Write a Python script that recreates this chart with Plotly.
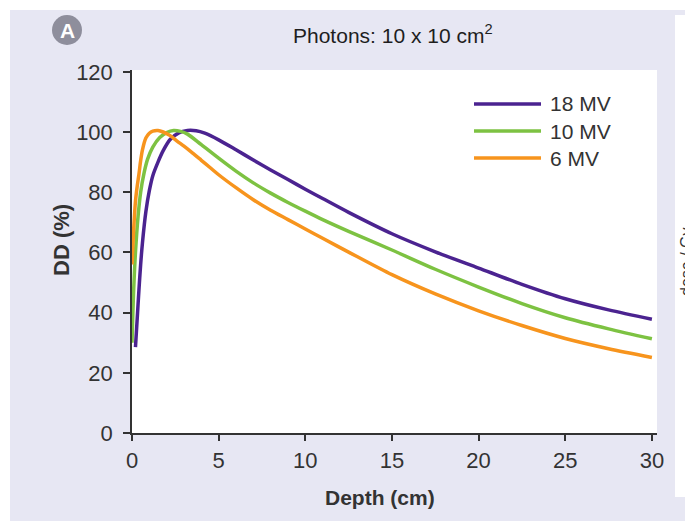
import plotly.graph_objects as go

# ---------------- data ----------------
depth_6mv = [0, 0.05, 0.1, 0.2, 0.3, 0.4, 0.5, 0.6, 0.8, 1.0, 1.2, 1.5, 1.8, 2.2, 2.6, 3.0, 3.5, 4.0, 4.5, 5.0,
             6.0, 7.0, 8.0, 9.0, 10, 11, 12.5, 15, 17.5, 20, 22.5, 25, 27.5, 30]
dd_6mv = [56, 62, 68, 77, 82, 86, 90.5, 94, 98, 99.6, 100.3, 100.5, 100, 98.8, 97, 95.3, 93, 90.6, 88.2, 85.8,
          81.5, 77.5, 74.0, 70.9, 67.8, 64.7, 60.1, 52.6, 46.2, 40.6, 35.7, 31.4, 28.0, 25.1]

depth_10mv = [0, 0.05, 0.1, 0.2, 0.35, 0.5, 0.7, 0.9, 1.2, 1.6, 2.0, 2.4, 2.8, 3.2, 4.0, 5.0, 6.0, 7.0, 8.0, 9.0,
              10, 11, 12.5, 15, 17.5, 20, 22.5, 25, 27.5, 30]
dd_10mv = [30, 40, 48, 60, 72, 80, 86.5, 91, 95, 98.2, 99.8, 100.5, 100.2, 99.3, 95.8, 91.3, 87.0, 83.1, 79.7, 76.6,
           73.7, 70.9, 67.0, 60.8, 54.4, 48.5, 43.0, 38.3, 34.6, 31.3]

depth_18mv = [0.2, 0.3, 0.4, 0.5, 0.6, 0.8, 1.0, 1.2, 1.5, 1.8, 2.2, 2.7, 3.2, 3.7, 4.2, 5.0, 6.0, 7.0, 8.0, 9.0,
              10, 11, 12.5, 15, 17.5, 20, 22.5, 25, 27.5, 30]
dd_18mv = [28.5, 38, 47.5, 56, 63, 73.5, 80.5, 85.5, 90, 93.8, 97.5, 99.7, 100.5, 100.4, 99.6, 97.4, 94.1, 90.7, 87.4, 84.2,
           81.0, 77.9, 73.3, 66.2, 60.2, 54.8, 49.4, 44.6, 40.9, 37.8]

series_names = ["18 MV", "10 MV", "6 MV"]
series_colors = ["#4b2390", "#7dc242", "#f7941d"]
series_depths = [depth_18mv, depth_10mv, depth_6mv]
series_values = [dd_18mv, dd_10mv, dd_6mv]

x_ticks = [0, 5, 10, 15, 20, 25, 30]
y_ticks = [0, 20, 40, 60, 80, 100, 120]

title_text = "Photons: 10 x 10 cm<sup>2</sup>"
x_title = "Depth (cm)"
y_title = "DD (%)"
panel_letter = "A"
side_text = "dose / Gy"

# ---------------- layout geometry ----------------
# the page body adds an 8 px offset; positions below are screen pixels
OFF = 8
W, H = 693, 521
SL, SR, ST, SB = 132, 657, 70, 433  # plot area in screen pixels
PL, PR, PT, PB = SL - OFF, SR - OFF, ST - OFF, SB - OFF
pw, ph = PR - PL, PB - PT


def px(x):
    return (x - OFF - PL) / pw


def py(y):
    return (PB - (y - OFF)) / ph


FONT = "Liberation Sans, Arial, sans-serif"
TXT = "#333333"
LAV = "#e7e7f3"

fig = go.Figure()
for name, color, xs, ys in zip(series_names, series_colors, series_depths, series_values):
    fig.add_trace(go.Scatter(
        x=xs, y=ys, mode="lines", name=name,
        line=dict(color=color, width=3.5, shape="spline", smoothing=0.8),
        showlegend=False,
    ))

shapes = [
    dict(type="rect", xref="paper", yref="paper", x0=px(10), x1=px(720), y0=py(540), y1=py(10),
         fillcolor=LAV, line=dict(width=0), layer="below"),
    dict(type="rect", xref="paper", yref="paper", x0=0, x1=1, y0=0, y1=1,
         fillcolor="white", line=dict(width=0), layer="below"),
    dict(type="rect", xref="paper", yref="paper", x0=px(675), x1=px(720), y0=py(497), y1=py(15),
         fillcolor="white", line=dict(width=0), layer="below"),
    dict(type="circle", xref="paper", yref="paper", x0=px(52), x1=px(82), y0=py(45), y1=py(15),
         fillcolor="#8e8e9c", line=dict(width=0), layer="above"),
]

annotations = [
    dict(text=title_text, xref="paper", yref="paper", x=px(393), y=py(34), showarrow=False,
         font=dict(family=FONT, size=21, color="#1e1e1e"), xanchor="center", yanchor="middle"),
    dict(text="<b>" + panel_letter + "</b>", xref="paper", yref="paper", x=px(67), y=py(30.5), showarrow=False,
         font=dict(family=FONT, size=21, color="white"), xanchor="center", yanchor="middle"),
    dict(text="<b>" + x_title + "</b>", xref="paper", yref="paper", x=px(380), y=py(497), showarrow=False,
         font=dict(family=FONT, size=21, color=TXT), xanchor="center", yanchor="middle"),
    dict(text="<b>" + y_title + "</b>", xref="paper", yref="paper", x=px(62), y=py(240), showarrow=False,
         textangle=-90, font=dict(family=FONT, size=22, color=TXT), xanchor="center", yanchor="middle"),
    dict(text=side_text, xref="paper", yref="paper", x=px(686), y=py(262), showarrow=False,
         textangle=-90, font=dict(family=FONT, size=16, color="#333333"), xanchor="center", yanchor="middle"),
]

leg_y = [104, 131, 158]
for name, color, ly in zip(series_names, series_colors, leg_y):
    shapes.append(dict(type="line", xref="paper", yref="paper", x0=px(474), x1=px(541), y0=py(ly), y1=py(ly),
                       line=dict(color=color, width=3.5), layer="above"))
    annotations.append(dict(text=name, xref="paper", yref="paper", x=px(548), y=py(ly), showarrow=False,
                            font=dict(family=FONT, size=21, color=TXT), xanchor="left", yanchor="middle"))

fig.update_layout(
    width=W, height=H,
    margin=dict(l=PL, r=W - PR, t=PT, b=H - PB, pad=0, autoexpand=False),
    paper_bgcolor="white", plot_bgcolor="white",
    shapes=shapes, annotations=annotations,
    showlegend=False,
    font=dict(family=FONT, color=TXT),
)
fig.update_xaxes(
    range=[0, (PR - PL) / 17.33], tickvals=x_ticks, ticktext=[str(v) for v in x_ticks],
    showgrid=False, zeroline=False, showline=True, linecolor="#333333", linewidth=1.5,
    ticks="outside", ticklen=6, tickwidth=1.5, tickcolor="#333333",
    tickfont=dict(family=FONT, size=22, color=TXT), ticklabelstandoff=1,
)
fig.update_yaxes(
    range=[0, 120.6], tickvals=y_ticks, ticktext=[str(v) for v in y_ticks],
    showgrid=False, zeroline=False, showline=True, linecolor="#333333", linewidth=1.5,
    ticks="outside", ticklen=7, tickwidth=1.5, tickcolor="#333333",
    tickfont=dict(family=FONT, size=22, color=TXT), ticklabelstandoff=6,
)

fig.write_html("out.html")
